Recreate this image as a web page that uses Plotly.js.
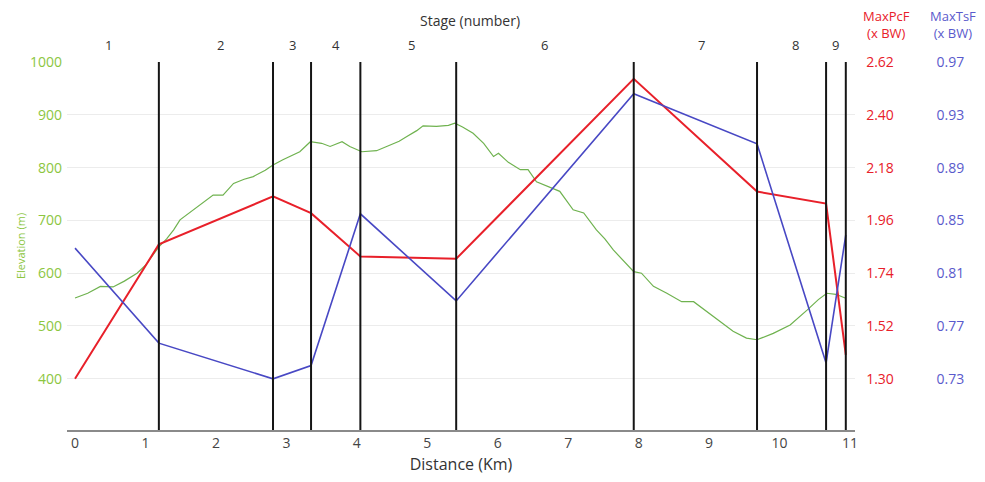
<!DOCTYPE html>
<html>
<head>
<meta charset="utf-8">
<script src="https://cdn.plot.ly/plotly-3.0.1.min.js"></script>
<style>html,body{margin:0;padding:0;background:#fff;}#chart{width:985px;height:482px;}</style>
</head>
<body>
<div id="chart"></div>
<script>
// Stage boundaries (km) and stage labels
const stageBounds = [1.19, 2.81, 3.35, 4.05, 5.41, 7.93, 9.68, 10.66, 10.94];
const stageLabels = ['1','2','3','4','5','6','7','8','9'];
const stageLabelPos = [0.47, 2.06, 3.09, 3.70, 4.77, 6.67, 8.89, 10.23, 10.79];

// Force points at start and each stage boundary
const forceX = [0, 1.19, 2.81, 3.35, 4.05, 5.41, 7.93, 9.68, 10.66, 10.94];
const maxPcF = [1.30, 1.86, 2.06, 1.99, 1.81, 1.80, 2.55, 2.08, 2.03, 1.40];
const maxTsF = [0.829, 0.757, 0.730, 0.740, 0.855, 0.789, 0.946, 0.908, 0.742, 0.839];

// Elevation profile
const elevX = [0, 0.18, 0.36, 0.54, 0.70, 0.88, 1.0, 1.19, 1.30, 1.40, 1.49, 1.60, 1.77, 1.96, 2.10, 2.25, 2.40, 2.53, 2.70, 2.81, 2.95, 3.10, 3.19, 3.34, 3.50, 3.62, 3.79, 3.90, 4.07, 4.28, 4.47, 4.60, 4.71, 4.85, 4.94, 5.13, 5.30, 5.39, 5.50, 5.65, 5.80, 5.94, 6.01, 6.15, 6.32, 6.43, 6.55, 6.70, 6.88, 7.07, 7.22, 7.40, 7.52, 7.64, 7.78, 7.93, 8.04, 8.21, 8.40, 8.61, 8.78, 8.97, 9.16, 9.34, 9.53, 9.68, 9.91, 10.15, 10.39, 10.55, 10.67, 10.80, 10.93];
const elevY = [553, 562, 575, 574, 585, 600, 615, 650, 665, 682, 701, 712, 729, 748, 748, 770, 778, 783, 795, 805, 815, 824, 830, 849, 846, 840, 849, 840, 830, 832, 843, 850, 859, 870, 879, 878, 880, 884, 877, 865, 846, 821, 827, 810, 796, 796, 773, 765, 755, 720, 714, 682, 665, 644, 625, 603, 600, 575, 562, 546, 546, 527, 508, 490, 477, 474, 486, 502, 530, 550, 562, 560, 553];

const xTicks = [0,1,2,3,4,5,6,7,8,9,10,11];
const elevTicks = [400, 500, 600, 700, 800, 900, 1000];
const pcfTicks = [1.30, 1.52, 1.74, 1.96, 2.18, 2.40, 2.62];
const tsfTicks = [0.73, 0.77, 0.81, 0.85, 0.89, 0.93, 0.97];

const GREEN_LINE = '#6fb24f', GREEN_TXT = '#8cc63f';
const RED = '#e8202a', BLUE = '#4848c4', BLUE_TXT = '#5a5acc';
const FONT = 'Open Sans, DejaVu Sans, sans-serif';

const traces = [
  {x: elevX, y: elevY, type: 'scatter', mode: 'lines', line: {color: GREEN_LINE, width: 1.2}, yaxis: 'y', hoverinfo: 'skip'},
  {x: forceX, y: maxPcF, type: 'scatter', mode: 'lines', line: {color: RED, width: 2}, yaxis: 'y2', hoverinfo: 'skip'},
  {x: forceX, y: maxTsF, type: 'scatter', mode: 'lines', line: {color: BLUE, width: 1.6}, yaxis: 'y3', hoverinfo: 'skip'}
];

const shapes = stageBounds.map(b => ({
  type: 'line', xref: 'x', yref: 'paper', x0: b, x1: b, y0: 0, y1: 1,
  line: {color: '#151515', width: 2}
}));

const annotations = stageLabels.map((s, i) => ({
  text: s, x: stageLabelPos[i], xref: 'x', xanchor: 'center', y: 1, yref: 'paper',
  yanchor: 'bottom', yshift: 6, showarrow: false,
  font: {family: FONT, size: 13, color: '#333'}
}));
annotations.push({text: 'Stage (number)', x: 0.4438, xref: 'paper', xanchor: 'center', y: 1, yref: 'paper', yanchor: 'bottom', yshift: 30, showarrow: false, font: {family: FONT, size: 14, color: '#333'}});
annotations.push({text: 'MaxPcF<br>(x BW)', x: 0.902, xref: 'paper', xanchor: 'center', y: 1, yref: 'paper', yanchor: 'bottom', yshift: 18, showarrow: false, font: {family: FONT, size: 13, color: RED}});
annotations.push({text: 'MaxTsF<br>(x BW)', x: 0.9758, xref: 'paper', xanchor: 'center', y: 1, yref: 'paper', yanchor: 'bottom', yshift: 18, showarrow: false, font: {family: FONT, size: 13, color: BLUE_TXT}});

const layout = {
  width: 985, height: 482,
  margin: {l: 67, r: 10, t: 62, b: 52, pad: 0},
  paper_bgcolor: '#fff', plot_bgcolor: '#fff',
  showlegend: false,
  font: {family: FONT},
  xaxis: {
    domain: [0, 0.8678], range: [-0.114, 11.07],
    tickvals: xTicks, ticks: '', showgrid: false, zeroline: false,
    showline: true, linecolor: '#8a8a8a', linewidth: 1.5,
    tickfont: {family: FONT, size: 14, color: '#444'},
    title: {text: 'Distance (Km)', font: {family: FONT, size: 16, color: '#333'}, standoff: 7}
  },
  yaxis: {
    range: [303, 1000], tickvals: elevTicks, ticks: '', ticklabelstandoff: 4,
    showgrid: true, gridcolor: '#ececec', gridwidth: 1, zeroline: false, showline: false,
    tickfont: {family: FONT, size: 14, color: GREEN_TXT},
    title: {text: 'Elevation (m)', font: {family: FONT, size: 11, color: GREEN_TXT}, standoff: 2}
  },
  yaxis2: {
    overlaying: 'y', side: 'right', anchor: 'free', position: 0.879,
    range: [1.0866, 2.62], tickvals: pcfTicks, tickformat: '.2f', ticks: '',
    showgrid: false, zeroline: false, showline: false,
    tickfont: {family: FONT, size: 14, color: RED}
  },
  yaxis3: {
    overlaying: 'y', side: 'right', anchor: 'free', position: 0.9565,
    range: [0.6912, 0.97], tickvals: tsfTicks, tickformat: '.2f', ticks: '',
    showgrid: false, zeroline: false, showline: false,
    tickfont: {family: FONT, size: 14, color: BLUE_TXT}
  },
  shapes: shapes,
  annotations: annotations
};

Plotly.newPlot('chart', traces, layout, {staticPlot: true, displayModeBar: false});
</script>
</body>
</html>
